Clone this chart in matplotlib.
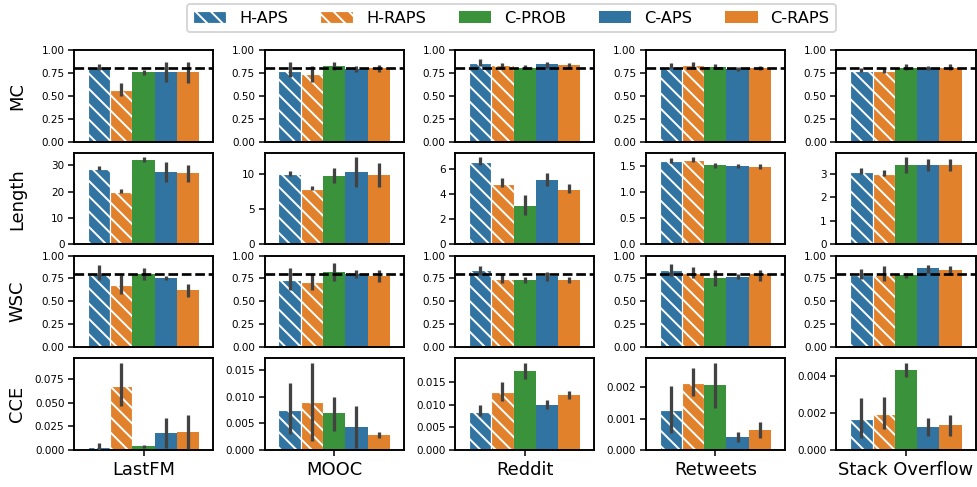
import matplotlib
matplotlib.use("Agg")
import matplotlib.pyplot as plt
from matplotlib.patches import Patch

datasets = ["LastFM", "MOOC", "Reddit", "Retweets", "Stack Overflow"]
methods = ["H-APS", "H-RAPS", "C-PROB", "C-APS", "C-RAPS"]
metrics = ["MC", "Length", "WSC", "CCE"]
target_coverage = 0.8

# Each table: one row per dataset, one column per method.
mc_mean = [
    [0.81, 0.56, 0.756, 0.756, 0.756],
    [0.771, 0.735, 0.825, 0.796, 0.80],
    [0.858, 0.833, 0.804, 0.844, 0.833],
    [0.818, 0.833, 0.82, 0.793, 0.80],
    [0.775, 0.775, 0.807, 0.804, 0.807],
]
mc_ci = [
    [(0.78, 0.85), (0.50, 0.64), (0.73, 0.78), (0.65, 0.87), (0.64, 0.87)],
    [(0.709, 0.865), (0.655, 0.825), (0.778, 0.873), (0.756, 0.825), (0.764, 0.836)],
    [(0.825, 0.898), (0.80, 0.862), (0.79, 0.836), (0.807, 0.873), (0.80, 0.855)],
    [(0.80, 0.862), (0.80, 0.865), (0.793, 0.847), (0.771, 0.818), (0.78, 0.822)],
    [(0.764, 0.807), (0.753, 0.80), (0.78, 0.844), (0.78, 0.829), (0.785, 0.844)],
]

length_mean = [
    [28.6, 19.9, 32.1, 27.4, 27.0],
    [10.0, 7.9, 9.72, 10.28, 9.9],
    [6.52, 4.83, 3.09, 5.12, 4.34],
    [1.59, 1.606, 1.52, 1.50, 1.48],
    [3.07, 3.0, 3.375, 3.375, 3.375],
]
length_ci = [
    [(28.4, 29.6), (19.4, 20.9), (31.25, 33.1), (23.75, 31.1), (23.75, 30.25)],
    [(9.74, 10.47), (7.67, 8.37), (8.7, 10.9), (8.23, 12.4), (8.23, 11.63)],
    [(6.29, 6.94), (4.55, 5.3), (2.34, 3.92), (4.68, 5.69), (4.08, 4.78)],
    [(1.556, 1.656), (1.575, 1.67), (1.47, 1.56), (1.456, 1.544), (1.44, 1.544)],
    [(2.99, 3.25), (2.9, 3.15), (3.04, 3.71), (3.125, 3.64), (3.125, 3.625)],
]

wsc_mean = [
    [0.797, 0.678, 0.795, 0.751, 0.623],
    [0.733, 0.707, 0.824, 0.795, 0.773],
    [0.839, 0.744, 0.733, 0.777, 0.733],
    [0.843, 0.81, 0.755, 0.762, 0.795],
    [0.788, 0.788, 0.788, 0.861, 0.839],
]
wsc_ci = [
    [(0.733, 0.897), (0.575, 0.788), (0.733, 0.868), (0.729, 0.777), (0.55, 0.685)],
    [(0.623, 0.861), (0.62, 0.795), (0.72, 0.923), (0.758, 0.842), (0.714, 0.839)],
    [(0.79, 0.89), (0.696, 0.806), (0.703, 0.769), (0.725, 0.824), (0.703, 0.762)],
    [(0.78, 0.908), (0.755, 0.872), (0.67, 0.843), (0.74, 0.795), (0.725, 0.842)],
    [(0.744, 0.85), (0.722, 0.886), (0.758, 0.806), (0.806, 0.897), (0.788, 0.886)],
]

cce_mean = [
    [0.0028, 0.068, 0.0045, 0.0178, 0.0192],
    [0.00747, 0.00895, 0.0069, 0.00426, 0.00284],
    [0.00852, 0.0128, 0.01754, 0.0101, 0.0123],
    [0.00127, 0.00213, 0.00207, 0.00042, 0.00065],
    [0.00165, 0.00193, 0.00432, 0.00124, 0.00135],
]
cce_ci = [
    [(0.0005, 0.0078), (0.0464, 0.0928), (0.0017, 0.0056), (0.0017, 0.034), (0.001, 0.037)],
    [(0.003, 0.0125), (0.0017, 0.0164), (0.0036, 0.0100), (0.0003, 0.0083), (0.0022, 0.0034)],
    [(0.0075, 0.0099), (0.0108, 0.0152), (0.0157, 0.0194), (0.0090, 0.0111), (0.0114, 0.0132)],
    [(0.00053, 0.00204), (0.00171, 0.00263), (0.00134, 0.00279), (0.00024, 0.00058), (0.00037, 0.00089)],
    [(0.00062, 0.0028), (0.00112, 0.00287), (0.00391, 0.00471), (0.00073, 0.00172), (0.00076, 0.00188)],
]

coverage_ticks = [0.0, 0.25, 0.5, 0.75, 1.0]
coverage_ticklabels = ["0.00", "0.25", "0.50", "0.75", "1.00"]
length_ticks = [[0, 10, 20, 30], [0, 5, 10], [0, 2, 4, 6], [0.0, 0.5, 1.0, 1.5], [0, 1, 2, 3]]
length_ticklabels = [["0", "10", "20", "30"], ["0", "5", "10"], ["0", "2", "4", "6"],
                     ["0.0", "0.5", "1.0", "1.5"], ["0", "1", "2", "3"]]
cce_ticks = [[0, 0.025, 0.05, 0.075], [0, 0.005, 0.010, 0.015], [0, 0.005, 0.010, 0.015],
             [0, 0.001, 0.002], [0, 0.002, 0.004]]
cce_ticklabels = [["0.000", "0.025", "0.050", "0.075"], ["0.000", "0.005", "0.010", "0.015"],
                  ["0.000", "0.005", "0.010", "0.015"], ["0.000", "0.001", "0.002"],
                  ["0.000", "0.002", "0.004"]]

BLUE, ORANGE, GREEN = "#3274a1", "#e1812c", "#3a923a"
method_colors = [BLUE, ORANGE, GREEN, BLUE, ORANGE]
HATCH = "\\\\\\"
method_hatch = [HATCH, HATCH, None, None, None]
ERR_COLOR = "#424242"

DPI = 138
plt.rcParams.update({
    "font.family": "DejaVu Sans",
    "axes.linewidth": 1.0,
    "xtick.major.size": 3.0,
    "ytick.major.size": 3.0,
    "xtick.major.width": 0.8,
    "ytick.major.width": 0.8,
    "xtick.major.pad": 2.5,
    "ytick.major.pad": 2.0,
    "hatch.linewidth": 1.0,
})

fig, axes = plt.subplots(4, 5, figsize=(977 / DPI, 487 / DPI), dpi=DPI)
fig.subplots_adjust(left=0.0757, right=0.9985, top=0.8973, bottom=0.076,
                    wspace=0.37, hspace=0.12)

row_data = [(mc_mean, mc_ci), (length_mean, length_ci), (wsc_mean, wsc_ci), (cce_mean, cce_ci)]
bar_w = 0.8 / len(methods)
offsets = [-0.4 + bar_w * (k + 0.5) for k in range(len(methods))]

for r, (means, cis) in enumerate(row_data):
    for c, name in enumerate(datasets):
        ax = axes[r, c]
        for k in range(len(methods)):
            hatch = method_hatch[k]
            ax.bar(offsets[k], means[c][k], width=bar_w,
                   color=method_colors[k],
                   edgecolor="white" if hatch else "none",
                   linewidth=0.6 if hatch else 0,
                   hatch=hatch, zorder=2)
            lo, hi = cis[c][k]
            ax.plot([offsets[k], offsets[k]], [lo, hi], color=ERR_COLOR,
                    lw=1.7, solid_capstyle="butt", zorder=3)
        ax.set_xlim(-0.5, 0.5)
        if metrics[r] in ("MC", "WSC"):
            ax.set_ylim(0, 1)
            ax.axhline(target_coverage, color="black", lw=1.4, ls=(0, (3.6, 1.4)), zorder=4)
            ax.set_yticks(coverage_ticks)
            ax.set_yticklabels(coverage_ticklabels)
        elif metrics[r] == "Length":
            ax.set_yticks(length_ticks[c])
            ax.set_yticklabels(length_ticklabels[c])
        else:
            ax.set_yticks(cce_ticks[c])
            ax.set_yticklabels(cce_ticklabels[c])
        ax.tick_params(axis="y", labelsize=5.4)
        if r == len(metrics) - 1:
            ax.set_xticks([0])
            ax.set_xticklabels([name], fontsize=9.3)
        else:
            ax.set_xticks([])
        if c == 0:
            ax.set_ylabel(metrics[r], fontsize=9.3)
            ax.yaxis.set_label_coords(-0.345, 0.5)

handles = [Patch(facecolor=method_colors[k], edgecolor="white" if method_hatch[k] else "none",
                 linewidth=0.6 if method_hatch[k] else 0, hatch=method_hatch[k], label=m)
           for k, m in enumerate(methods)]
fig.legend(handles=handles, loc="center", ncol=5, bbox_to_anchor=(0.5235, 0.963),
           fontsize=8.5, frameon=True)

fig.savefig("out.png", dpi=DPI)
